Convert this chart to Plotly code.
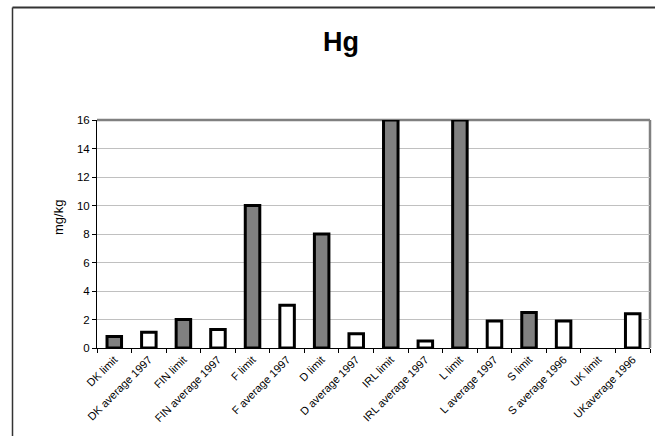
import plotly.graph_objects as go

categories = ["DK limit", "DK average 1997", "FIN limit", "FIN average 1997", "F limit",
              "F average 1997", "D limit", "D average 1997", "IRL limit", "IRL average 1997",
              "L limit", "L average 1997", "S limit", "S average 1996", "UK limit", "UKaverage 1996"]
values = [0.8, 1.1, 2.0, 1.3, 10.0, 3.0, 8.0, 1.0, 16.0, 0.5, 16.0, 1.9, 2.5, 1.9, None, 2.4]
is_limit = [c.endswith("limit") for c in categories]
y_ticks = [0, 2, 4, 6, 8, 10, 12, 14, 16]

W, H = 655, 436
L, R, T, B = 97, 5, 120, 88
pw, ph = W - L - R, H - T - B

def px(x):
    return (x - L) / pw

def py(y):
    return (H - B - y) / ph

colors = ["#808080" if lim else "#ffffff" for lim in is_limit]
FONT = "Arial, Liberation Sans, sans-serif"

fig = go.Figure()
fig.add_trace(go.Bar(
    x=categories, y=values,
    marker=dict(color=colors, line=dict(color="#000000", width=3)),
    width=0.42,
    cliponaxis=False,
))

fig.update_layout(
    template="none",
    width=W, height=H,
    margin=dict(l=L, r=R, t=T, b=B),
    paper_bgcolor="#ffffff", plot_bgcolor="#ffffff",
    showlegend=False,
    font=dict(family=FONT, color="#000000"),
    title=dict(text="<b>Hg</b>", x=341 / W, xanchor="center", y=1 - 42 / H, yanchor="middle",
               font=dict(size=27, family=FONT, color="#000000")),
)

fig.update_xaxes(
    showline=True, linecolor="#000000", linewidth=1,
    ticks="outside", tickson="boundaries", ticklen=4, tickcolor="#000000",
    tickangle=-45, tickfont=dict(size=11, family=FONT, color="#000000"),
    showgrid=False, fixedrange=True,
)
fig.update_yaxes(
    range=[0, 16], tickvals=y_ticks,
    showline=True, linecolor="#000000", linewidth=1,
    ticks="outside", ticklen=4, tickcolor="#000000",
    tickfont=dict(size=11.5, family=FONT, color="#000000"),
    showgrid=True, gridcolor="#c0c0c0", gridwidth=1,
    zeroline=False, fixedrange=True,
)

# y-axis title (placed as in the reference, above axis centre)
fig.add_annotation(text="mg/kg", xref="paper", yref="paper", x=px(58.5), y=py(217.5),
                   xanchor="center", yanchor="middle", textangle=-90, showarrow=False,
                   font=dict(size=13, family=FONT, color="#000000"))

# plot area frame (gray top/right)
fig.add_shape(type="line", xref="paper", yref="paper", x0=0, x1=1, y0=1, y1=1,
              line=dict(color="#808080", width=2.5), layer="below")
fig.add_shape(type="line", xref="paper", yref="paper", x0=1, x1=1, y0=0, y1=1,
              line=dict(color="#808080", width=2.5), layer="below")

# outer chart frame
fig.add_shape(type="line", xref="paper", yref="paper", x0=px(12.5), x1=px(656), y0=py(7.5), y1=py(7.5),
              line=dict(color="#333333", width=2))
fig.add_shape(type="line", xref="paper", yref="paper", x0=px(12.5), x1=px(12.5), y0=py(7.5), y1=py(440),
              line=dict(color="#333333", width=1.5))

fig.write_html("out.html", config={"displayModeBar": False},
               post_script="document.body.style.margin='0';document.body.style.padding='0';")
